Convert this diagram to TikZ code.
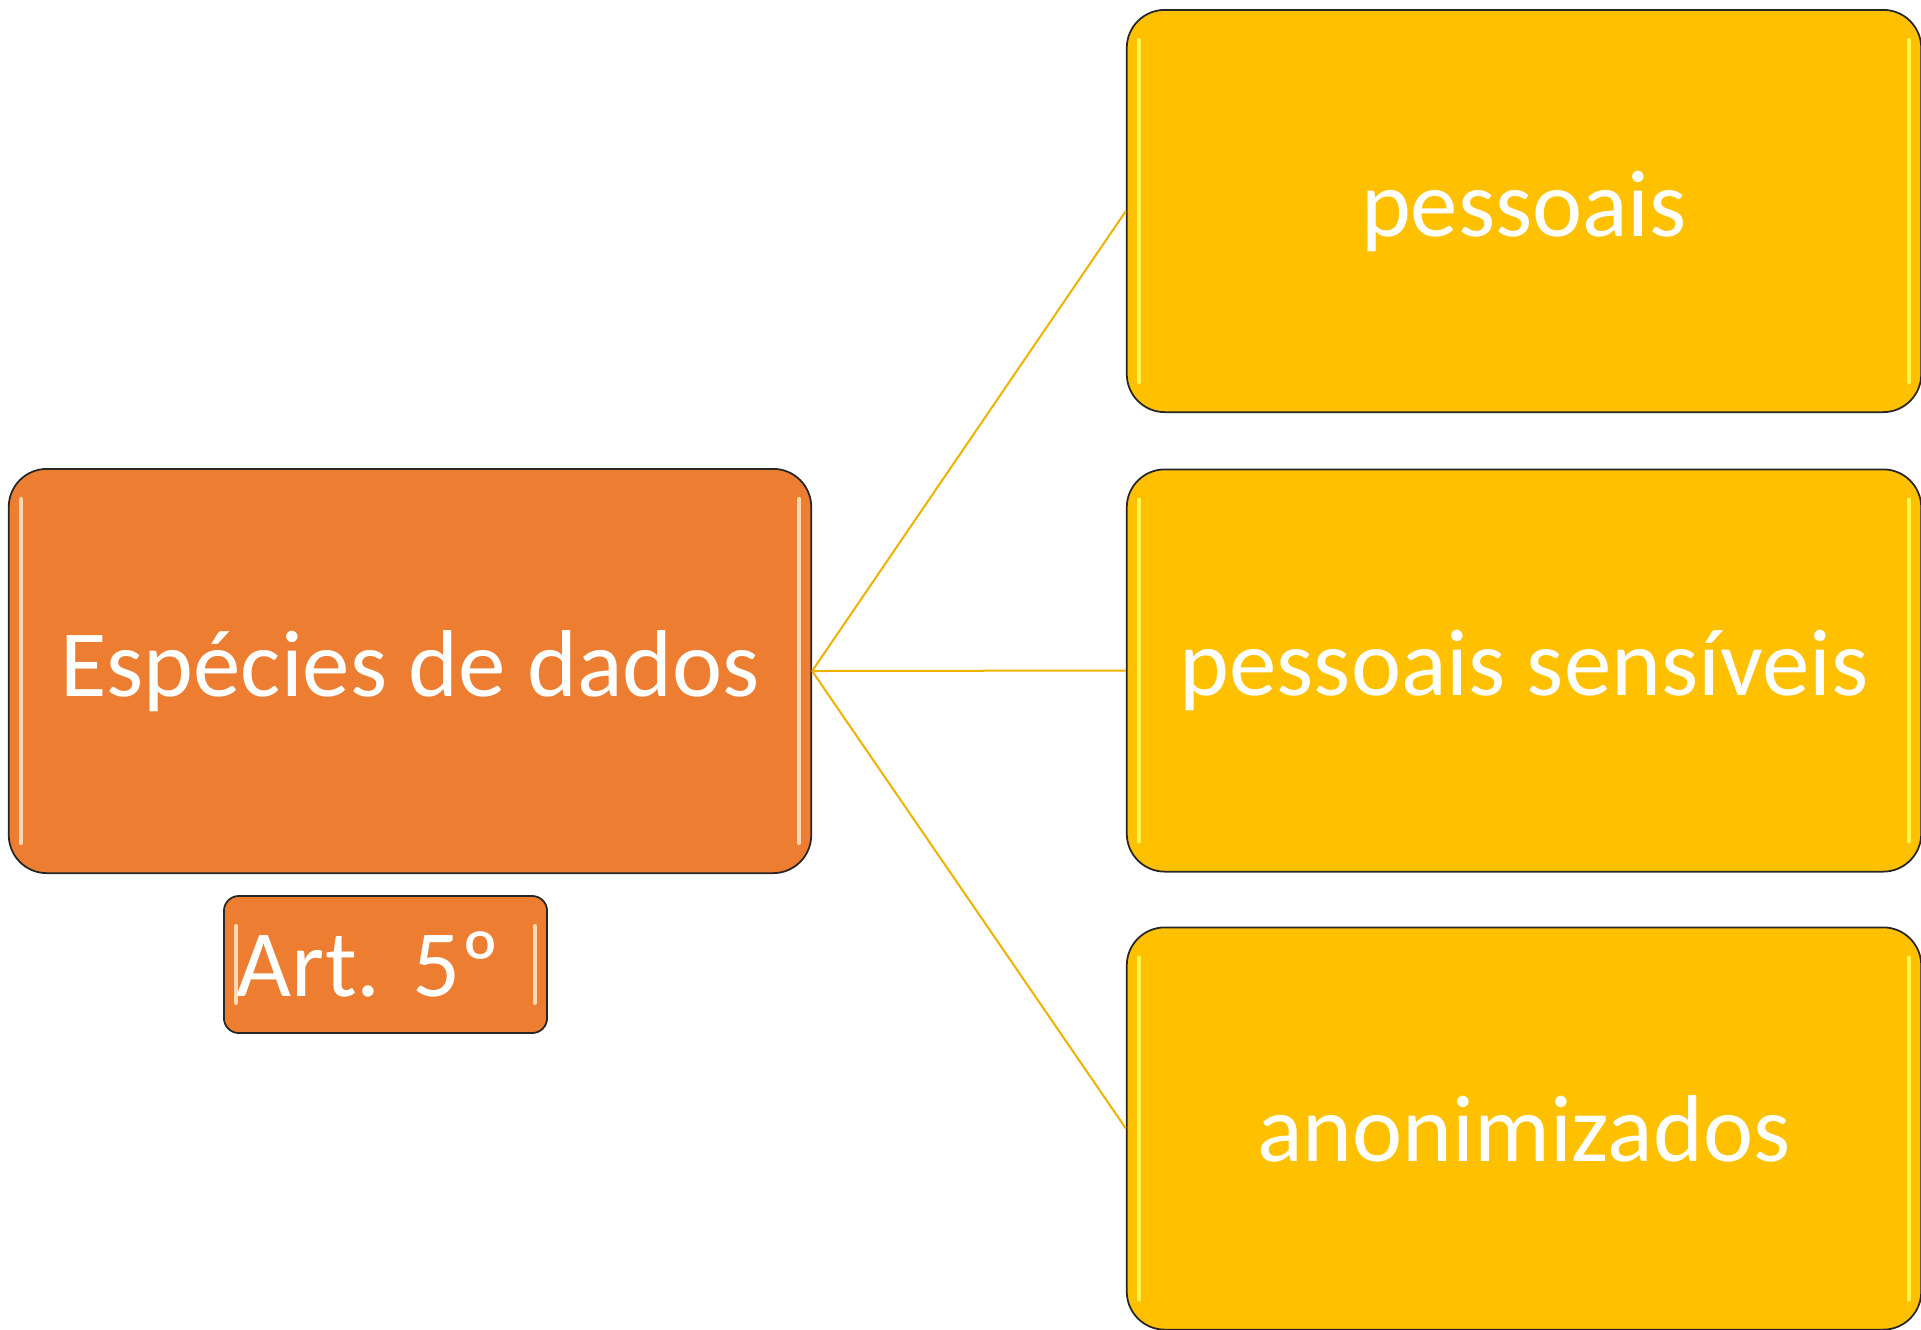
\documentclass[tikz,border=0pt]{standalone}
\usepackage{fontspec}
\setmainfont{Carlito}
\definecolor{orangebox}{HTML}{ED7D31}
\definecolor{goldbox}{HTML}{FFC000}
\definecolor{edgeline}{HTML}{262626}
\definecolor{linkline}{HTML}{EDB300}
\tikzset{
  glossy/.style={path picture={
      \draw [#1, line width=0.04cm, line cap=round]
        ([xshift=0.12cm,yshift=0.3cm]path picture bounding box.south west) --
        ([xshift=0.12cm,yshift=-0.3cm]path picture bounding box.north west);
      \draw [#1, line width=0.04cm, line cap=round]
        ([xshift=-0.12cm,yshift=0.3cm]path picture bounding box.south east) --
        ([xshift=-0.12cm,yshift=-0.3cm]path picture bounding box.north east);}},
  databox/.style={rectangle, rounded corners=0.38cm, draw=edgeline, line width=0.5pt,
    text=white, inner sep=0pt, font=\fontsize{27}{32}\selectfont},
  mainbox/.style={databox, fill=orangebox, minimum width=8.02cm, minimum height=4.04cm,
    glossy=orange!30!white},
  kindbox/.style={databox, fill=goldbox, minimum width=7.94cm, minimum height=4.02cm,
    glossy=yellow!70!white},
  artbox/.style={databox, fill=orangebox, rounded corners=0.15cm, minimum width=3.23cm,
    minimum height=1.37cm, text width=2.97cm, inner xsep=0.13cm, align=left,
    glossy=orange!30!white},
  link/.style={draw=linkline, line width=0.02cm}
}
\begin{document}
\begin{tikzpicture}[x=0.01cm, y=-0.01cm]
  \useasboundingbox (0,0) rectangle (1921,1329);
  \node [mainbox] (especies) at (410,671) {Espécies de dados};
  \node [artbox] (artigo) at (385.5,964.5) {Art.\ 5º};
  \node [kindbox] (pessoais) at (1524,211) {pessoais};
  \node [kindbox] (sensiveis) at (1524,670.5) {pessoais sensíveis};
  \node [kindbox] (anonim) at (1524,1128.5) {anonimizados};
  \path [link] (especies.east) -- (pessoais.west);
  \path [link] (especies.east) -- (sensiveis.west);
  \path [link] (especies.east) -- (anonim.west);
\end{tikzpicture}
\end{document}
